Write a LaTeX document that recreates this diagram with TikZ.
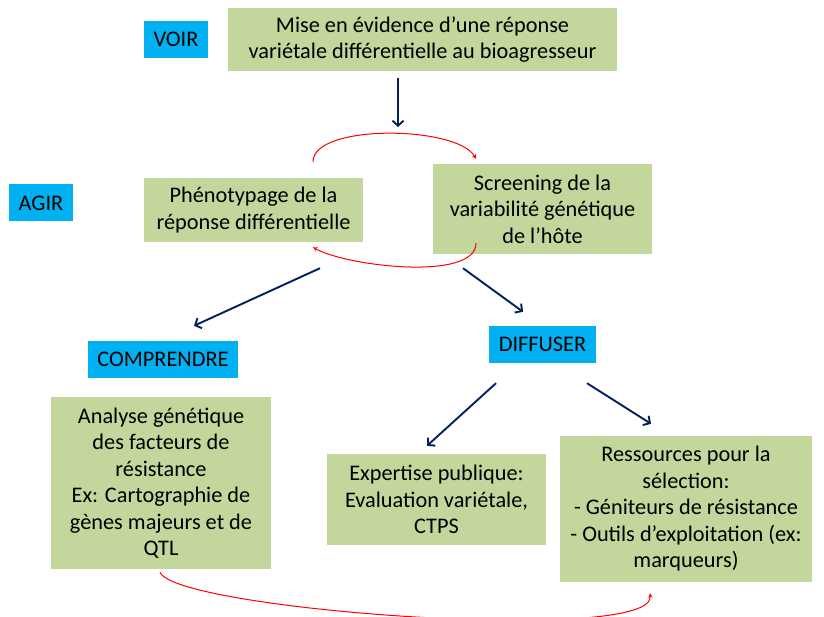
\documentclass[tikz,border=0pt]{standalone}
\usepackage{fontspec}
\setmainfont{Carlito}
\usepackage{tikz}
\usetikzlibrary{arrows.meta}

\definecolor{vert}{HTML}{C3D69B}
\definecolor{bleu}{HTML}{00B0F0}
\definecolor{marine}{HTML}{002060}

\begin{document}
\begin{tikzpicture}[
    font=\fontsize{22.3}{26.5}\selectfont,
    etape/.style={fill=vert, align=center, inner sep=0pt},
    verbe/.style={fill=bleu, inner xsep=9.5pt, minimum height=37pt},
    fleche/.style={-{Straight Barb[length=5pt, width=11pt]}, draw=marine, line width=1.9pt},
    boucle/.style={-stealth, draw=red, line width=1pt}]
  \useasboundingbox (0,0) rectangle (824pt,-617pt);

  \node [etape, minimum width=389pt, minimum height=63pt] (1) at (422.5pt,-39.5pt) {Mise en évidence d’une réponse\\variétale différentielle au bioagresseur};
  \node [verbe, node distance=246.5pt, left of=1] (voir) {VOIR};
  \node [etape, minimum width=219pt, minimum height=64pt, node distance=170.5pt, below of=1, xshift=-169pt] (2) {Phénotypage de la\\réponse différentielle};
  \node [etape, minimum width=219pt, minimum height=90pt, node distance=289pt, right of=2, yshift=1pt] (3) {Screening de la\\variabilité génétique\\de l’hôte};
  \node [verbe, node distance=212.5pt, left of=2, yshift=7pt] (agir) {AGIR};
  \node [verbe, node distance=149.5pt, below of=2, xshift=-90.5pt] (c) {COMPRENDRE};
  \node [verbe, node distance=135.5pt, below of=3] (d) {DIFFUSER};
  \node [etape, minimum width=220pt, minimum height=172pt, node distance=123.5pt, below of=c, xshift=-2pt] (4) {Analyse génétique\\des facteurs de\\résistance\\Ex: Cartographie de\\gènes majeurs et de\\QTL};
  \node [etape, minimum width=219pt, minimum height=91pt, node distance=155pt, below of=d, xshift=-106pt] (5) {Expertise publique:\\Evaluation variétale,\\CTPS};
  \node [etape, minimum width=252pt, minimum height=146pt, node distance=249.5pt, right of=5, yshift=-9.5pt] (6) {Ressources pour la\\sélection:\\- Géniteurs de résistance\\- Outils d’exploitation (ex:\\marqueurs)};

  %% voir -> agir
  \coordinate (m) at (398pt,-127pt);
  \draw [fleche, shorten <=7pt] (1.south -| m) -- (m);

  %% boucle phenotypage / screening
  \draw [boucle] ([shift={(59.5pt,16pt)}]2.north) to[out=90, in=120, looseness=0.6] ([shift={(-66.5pt,5pt)}]3.north);
  \draw [boucle] ([shift={(-66.5pt,11pt)}]3.south) to[out=-90, in=-30, looseness=0.6] ([shift={(59.5pt,-5pt)}]2.south);

  \draw [fleche] ([shift={(66.5pt,-26pt)}]2.south) -- ([shift={(31pt,15pt)}]c.north);
  \draw [fleche] ([shift={(-79.5pt,-14pt)}]3.south) -- ([shift={(-19.5pt,14pt)}]d.north);
  \draw [fleche] ([shift={(-46.5pt,-20pt)}]d.south) -- ([shift={(-9.5pt,8pt)}]5.north);
  \draw [fleche] ([shift={(44.5pt,-20pt)}]d.south) -- ([shift={(-35pt,12pt)}]6.north);

  \draw [boucle] ([shift={(-1pt,-3pt)}]4.south) .. controls +(15pt,-38pt) and +(5pt,-52pt) .. ([shift={(-36pt,-11pt)}]6.south);
\end{tikzpicture}
\end{document}
